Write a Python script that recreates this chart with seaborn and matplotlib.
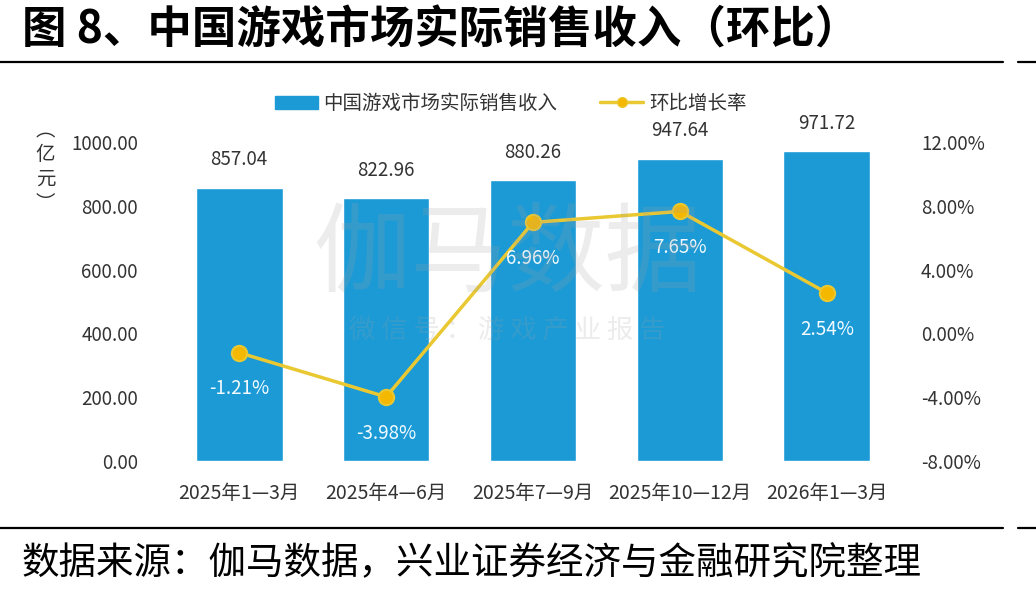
import numpy as np
import pandas as pd
import matplotlib.pyplot as plt
import matplotlib.lines as mlines
import matplotlib.patches as mpatches
import seaborn as sns

# Data
periods = ["2025年1—3月", "2025年4—6月", "2025年7—9月", "2025年10—12月", "2026年1—3月"]
revenue = [857.04, 822.96, 880.26, 947.64, 971.72]
qoq = [-1.21, -3.98, 6.96, 7.65, 2.54]
left_ticks = [0, 200, 400, 600, 800, 1000]
right_ticks = [-8, -4, 0, 4, 8, 12]

df = pd.DataFrame({"period": periods, "revenue": revenue, "qoq": qoq})

sns.set_theme(style="white")
plt.rcParams['font.family'] = ['Noto Sans CJK SC', 'DejaVu Sans']

bar_color = "#1B9AD6"
line_color = "#E9C832"
text_color = "#333333"

fig = plt.figure(figsize=(10.36, 5.96), dpi=100)
ax = fig.add_axes([0.160, 0.2265, 0.709, 0.5352])

sns.barplot(data=df, x="period", y="revenue", color=bar_color, width=0.59,
            saturation=1, ax=ax, zorder=2)
ax.set_ylim(0, 1000)
ax.set_xlim(-0.5, len(periods) - 0.5)
ax.set_yticks(left_ticks)
ax.set_yticklabels([f"{v:.2f}" for v in left_ticks])
ax.set_xlabel("")
ax.set_ylabel("")
ax.tick_params(axis="y", length=0, pad=20, labelsize=13.5, labelcolor=text_color)
ax.tick_params(axis="x", length=0, pad=16, labelsize=14, labelcolor=text_color)
for s in ax.spines.values():
    s.set_visible(False)

# bar value labels
for i, v in enumerate(revenue):
    ax.annotate(f"{v:.2f}", (i, v), xytext=(0, 20), textcoords="offset points",
                ha="center", va="center", fontsize=13.5, color=text_color)

# line on secondary axis
ax2 = ax.twinx()
sns.lineplot(x=np.arange(len(periods)), y=qoq, ax=ax2, color=line_color, linewidth=2.5,
             marker="o", markersize=11, markerfacecolor="#F5B800",
             markeredgecolor=line_color, markeredgewidth=1.5, zorder=3)
ax2.set_ylim(-8, 12)
ax2.set_yticks(right_ticks)
ax2.set_yticklabels([f"{v:.2f}%" for v in right_ticks])
ax2.tick_params(axis="y", length=0, pad=15, labelsize=13.5, labelcolor=text_color)
for s in ax2.spines.values():
    s.set_visible(False)
ax2.grid(False)

for i, v in enumerate(qoq):
    ax2.annotate(f"{v:.2f}%", (i, v), xytext=(0, -26), textcoords="offset points",
                 ha="center", va="center", fontsize=13.5, color="#F2FAFF", zorder=5)

# watermark, faint and laid over the chart as in the source image
fig.text(0.49, 0.57, "伽马数据", fontsize=70, color="#A0A0A0", alpha=0.2,
         ha="center", va="center", zorder=10)
fig.text(0.49, 0.445, "微 信 号 ： 游 戏 产 业 报 告", fontsize=19, color="#A0A0A0",
         alpha=0.2, ha="center", va="center", zorder=10)

# legend
handles = [
    mpatches.Patch(color=bar_color, label="中国游戏市场实际销售收入"),
    mlines.Line2D([], [], color=line_color, linewidth=2.5, marker="o", markersize=7,
                  markerfacecolor="#F5B800", markeredgecolor=line_color,
                  label="环比增长率"),
]
fig.legend(handles=handles, loc="center", bbox_to_anchor=(0.493, 0.826), ncol=2,
           frameon=False, fontsize=14, handlelength=2.2, columnspacing=2.2,
           handletextpad=0.3, labelcolor=text_color)

# y-axis unit
fig.text(0.044, 0.72, "︵\n亿\n元\n︶", fontsize=14, color=text_color,
         ha="center", va="center", linespacing=1.2)

# title, rules and source
fig.text(0.021, 0.948, "图 8、中国游戏市场实际销售收入（环比）", fontsize=32,
         fontweight="bold", color="black", ha="left", va="center")
for y in (0.896, 0.114):
    fig.add_artist(mlines.Line2D([0, 0.968], [y, y], color="black", linewidth=1.6,
                                 transform=fig.transFigure))
    fig.add_artist(mlines.Line2D([0.983, 1.0], [y, y], color="black", linewidth=1.6,
                                 transform=fig.transFigure))
fig.text(0.021, 0.055, "数据来源：伽马数据，兴业证券经济与金融研究院整理", fontsize=27,
         color="black", ha="left", va="center")

plt.savefig("out.png", dpi=100)
